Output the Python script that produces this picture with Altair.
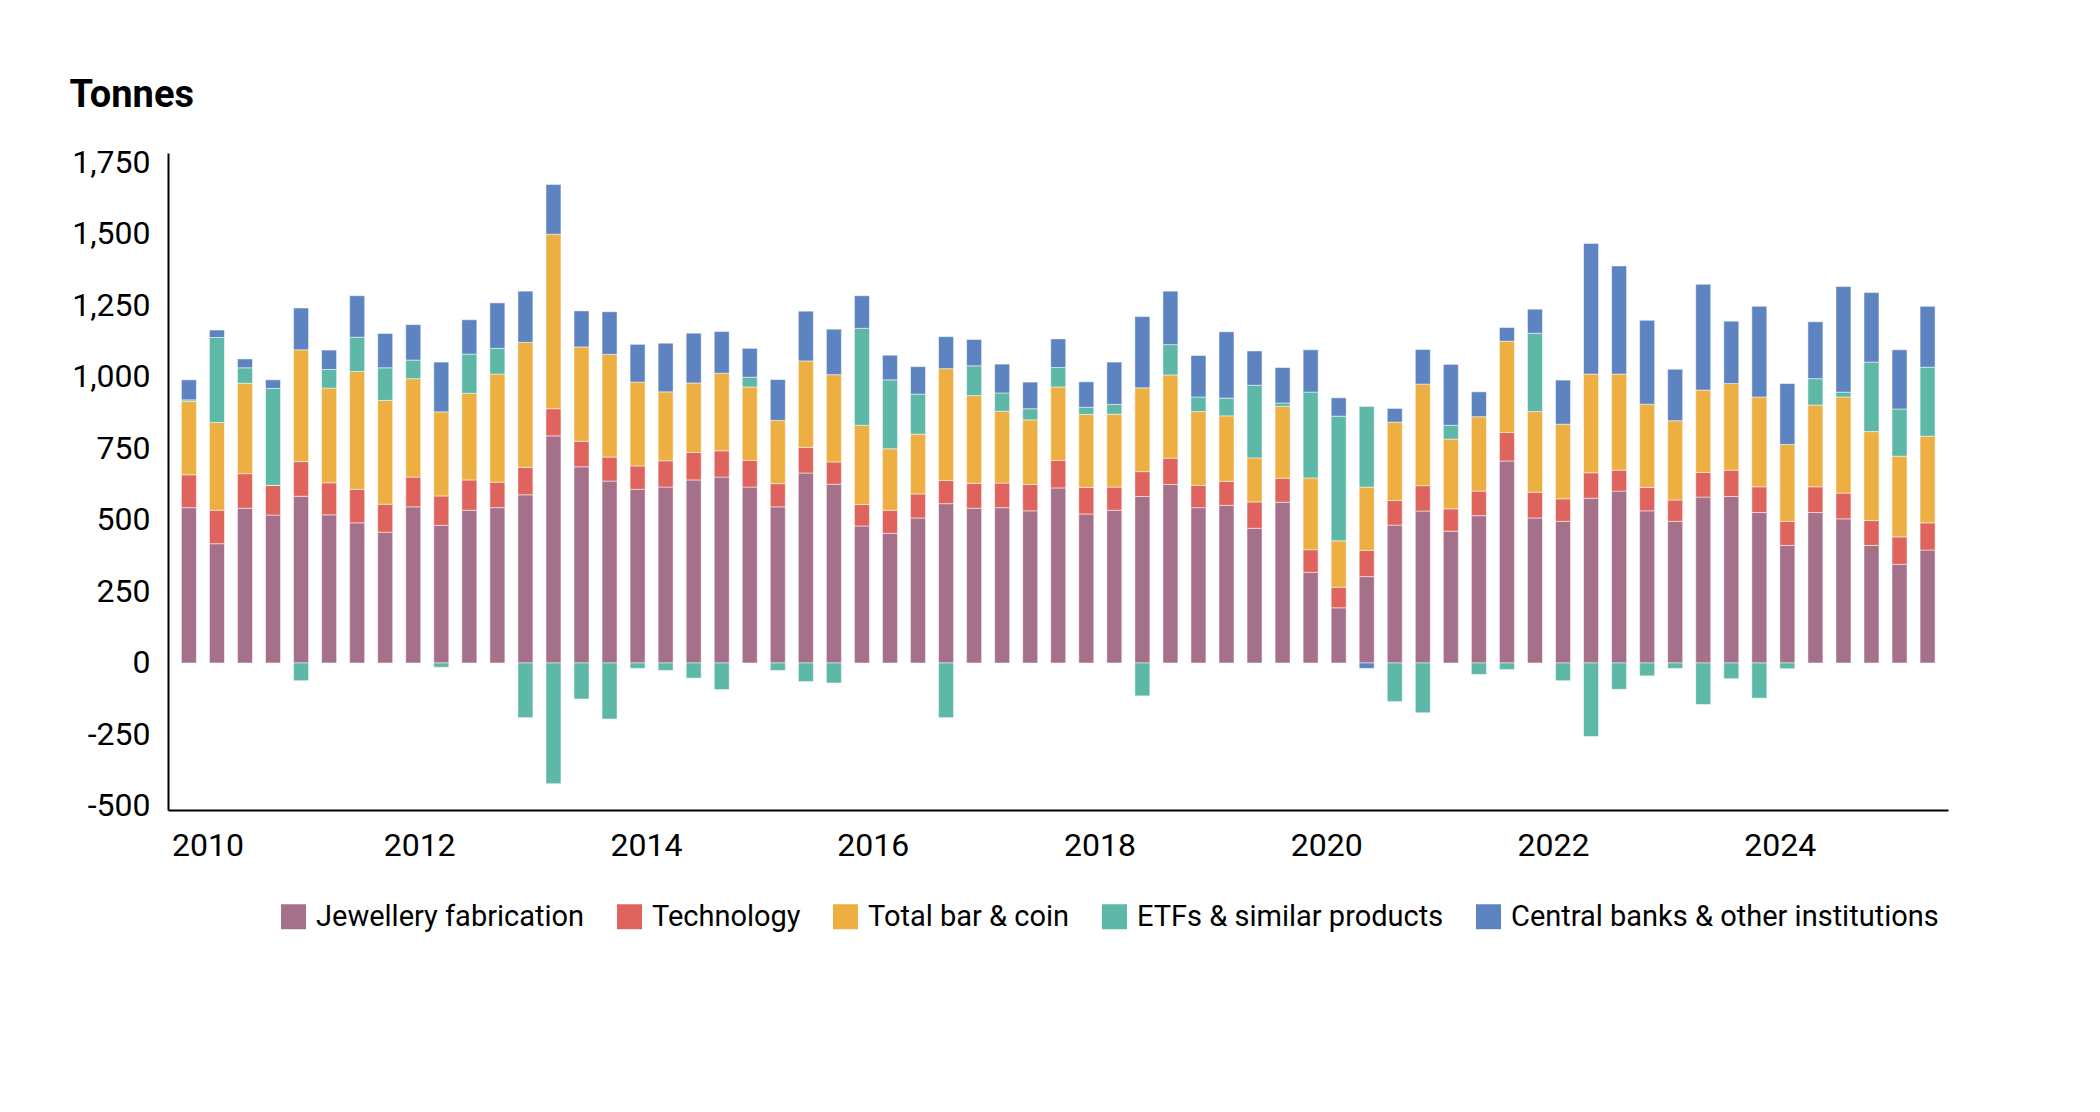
import altair as alt
import pandas as pd

# Quarterly gold demand, Q1 2010 .. Q3 2025 (tonnes)
years = list(range(2010, 2026))
quarters = [f"Q{q} {y}" for y in years for q in range(1, 5)][:63]

series_names = [
    "Jewellery fabrication",
    "Technology",
    "Total bar & coin",
    "ETFs & similar products",
    "Central banks & other institutions",
]
series_colors = ["#A5708A", "#E0645E", "#EDAE42", "#5DB8A7", "#5D84C0"]

jewellery = [543, 417, 541, 517, 583, 518, 490, 457,
             546, 481, 534, 543, 588, 794, 686, 636,
             607, 615, 640, 650, 615, 546, 664, 625,
             479, 453, 507, 557, 541, 543, 532, 612,
             521, 534, 582, 624, 543, 551, 471, 562,
             317, 193, 302, 482, 531, 461, 515, 706,
             507, 495, 576, 601, 532, 495, 580, 582,
             526, 411, 526, 504, 411, 345, 395]

technology = [115, 117, 121, 104, 121, 112, 117, 98,
              104, 103, 106, 89, 96, 95, 89, 84,
              82, 92, 96, 92, 93, 81, 90, 78,
              75, 81, 84, 81, 87, 86, 92, 96,
              93, 81, 87, 92, 78, 84, 92, 84,
              79, 72, 92, 86, 89, 78, 86, 100,
              90, 79, 89, 73, 82, 75, 86, 92,
              90, 84, 90, 90, 87, 96, 95]

bar_coin = [257, 307, 316, 0, 391, 331, 412, 363,
            344, 294, 303, 378, 437, 610, 330, 359,
            293, 241, 243, 271, 257, 221, 302, 305,
            277, 215, 209, 391, 307, 251, 226, 257,
            255, 255, 293, 291, 258, 229, 154, 251,
            251, 162, 221, 274, 355, 244, 260, 319,
            282, 261, 345, 336, 291, 277, 288, 303,
            314, 269, 286, 336, 311, 282, 303]

etfs = [5, 297, 54, 339, -62, 65, 120, 114,
        65, -15, 137, 90, -191, -422, -126, -196,
        -19, -26, -53, -93, 34, -26, -65, -70,
        339, 241, 140, -191, 104, 64, 39, 68,
        25, 34, -115, 106, 51, 62, 254, 12,
        300, 436, 282, -135, -174, 48, -40, -23,
        274, -62, -257, -92, -45, -19, -145, -55,
        -123, -20, 92, 17, 243, 165, 241]

central_banks = [70, 26, 31, 30, 146, 68, 145, 120,
                 124, 174, 120, 159, 179, 174, 126, 149,
                 132, 170, 174, 146, 101, 143, 174, 159,
                 114, 86, 96, 112, 92, 101, 93, 100,
                 89, 148, 249, 187, 145, 232, 120, 124,
                 148, 64, -19, 48, 121, 213, 87, 48,
                 84, 154, 457, 378, 293, 180, 370, 218,
                 317, 213, 199, 369, 243, 207, 213]

year_labels = ["2010", "2012", "2014", "2016", "2018", "2020", "2022", "2024"]
y_ticks = [-500, -250, 0, 250, 500, 750, 1000, 1250, 1500, 1750]

all_series = [jewellery, technology, bar_coin, etfs, central_banks]
rows = []
for s_i, (name, vals) in enumerate(zip(series_names, all_series)):
    for i, v in enumerate(vals):
        rows.append({"idx": i, "quarter": quarters[i], "series": name,
                     "order": s_i, "tonnes": v})
df = pd.DataFrame(rows)

# Year labels sit on a slightly different time grid than the bars;
# the first one is pushed right so it stays inside the axis.
x_tick_vals = [8.21 + (int(y) - 2012) * 4.043 for y in year_labels]
x_tick_vals[0] = 0.66

FONT = "Roboto"

bars = alt.Chart(df).mark_bar(size=15, stroke="white", strokeWidth=0.5).encode(
    x=alt.X(
        "idx:Q",
        scale=alt.Scale(domain=[-0.567, 62.55], nice=False, zero=False),
        axis=alt.Axis(
            values=x_tick_vals,
            labelExpr="toString(2010 + 2 * round((datum.value - 0.5) / 8))",
            grid=False, ticks=False, tickSize=0,
            domainColor="#000000", domainWidth=2,
            labelFont=FONT, labelFontSize=32, labelColor="#000000",
            labelPadding=20, labelFlush=False, labelOverlap=False,
            title=None,
        ),
    ),
    y=alt.Y(
        "tonnes:Q",
        stack="zero",
        scale=alt.Scale(domain=[-514, 1783], nice=False, zero=False),
        axis=alt.Axis(
            values=y_ticks,
            labelExpr="replace(format(datum.value, ','), '\u2212', '-')",
            grid=False, ticks=False, tickSize=0,
            domainColor="#000000", domainWidth=2,
            labelFont=FONT, labelFontSize=32, labelColor="#000000",
            labelPadding=18, labelFlush=False, labelOverlap=False,
            title="Tonnes", titleAngle=0, titleX=-99, titleY=-58,
            titleAlign="left", titleBaseline="middle",
            titleFont=FONT, titleFontSize=38, titleFontWeight="bold",
            titleColor="#000000",
        ),
    ),
    color=alt.Color(
        "series:N",
        scale=alt.Scale(domain=series_names, range=series_colors),
        legend=alt.Legend(
            title=None, orient="none", legendX=111, legendY=749,
            direction="horizontal", columns=5, padding=0,
            symbolType="square", symbolSize=625, symbolStrokeWidth=0,
            symbolOpacity=1,
            labelFont=FONT, labelFontSize=29, labelColor="#000000",
            labelLimit=0, labelOffset=8, columnPadding=30,
        ),
    ),
    order=alt.Order("order:Q", sort="ascending"),
    tooltip=["quarter:N", "series:N", "tonnes:Q"],
)

chart = bars.properties(
    width=1780,
    height=657,
    autosize=alt.AutoSizeParams(type="none"),
    padding={"left": 160, "top": 145, "right": 144, "bottom": 290},
).configure(
    background="white",
    view=alt.ViewConfig(strokeWidth=0, stroke="transparent"),
)

chart.save("out.html", embed_options={"renderer": "svg", "actions": False})
